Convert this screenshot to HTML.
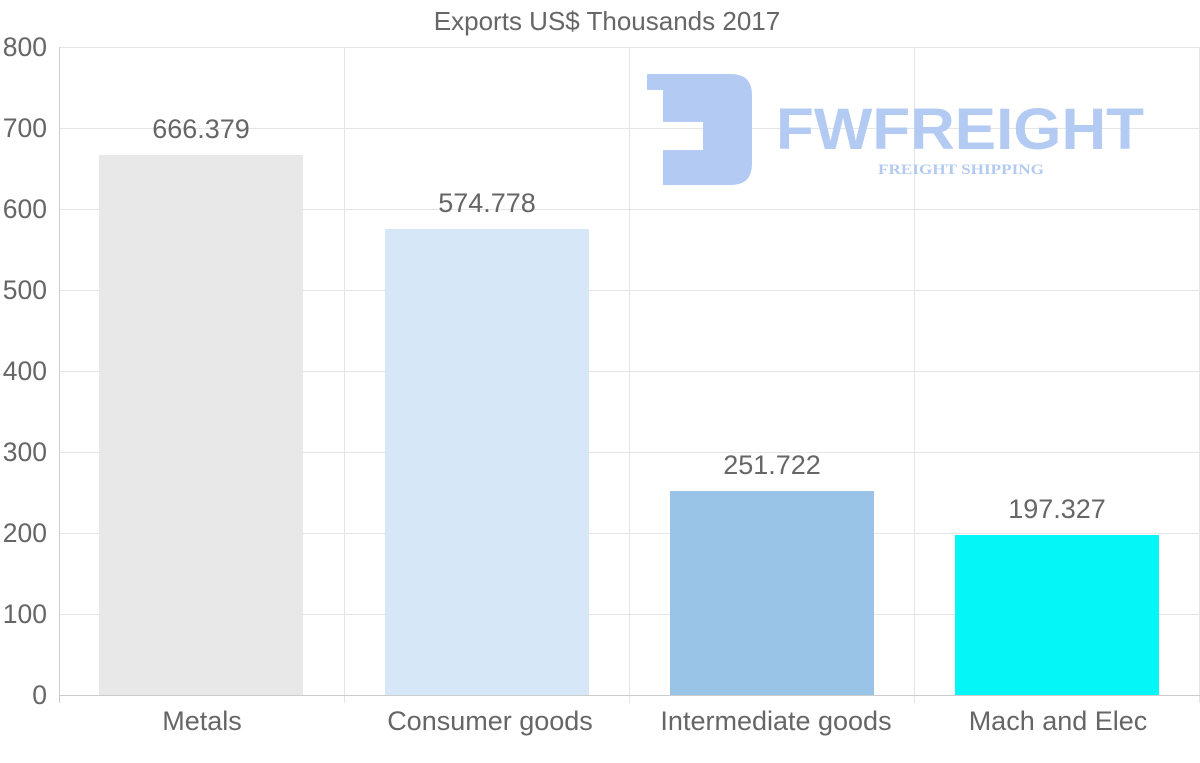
<!DOCTYPE html>
<html><head><meta charset="utf-8"><style>
html,body{margin:0;padding:0;background:#fff;}
svg{display:block;font-family:"Liberation Sans",Arial,sans-serif;}
</style></head><body>
<svg width="1200" height="763" viewBox="0 0 1200 763" xmlns="http://www.w3.org/2000/svg">
<rect width="1200" height="763" fill="#fff"/>
<text x="607" y="30" font-size="26" fill="#666" text-anchor="middle">Exports US$ Thousands 2017</text>
<g stroke="#e5e5e5" stroke-width="1">
<line x1="59" y1="47.5" x2="1200" y2="47.5"/>
<line x1="59" y1="128.5" x2="1200" y2="128.5"/>
<line x1="59" y1="209.5" x2="1200" y2="209.5"/>
<line x1="59" y1="290.5" x2="1200" y2="290.5"/>
<line x1="59" y1="371.5" x2="1200" y2="371.5"/>
<line x1="59" y1="452.5" x2="1200" y2="452.5"/>
<line x1="59" y1="533.5" x2="1200" y2="533.5"/>
<line x1="59" y1="614.5" x2="1200" y2="614.5"/>
<line x1="344.5" y1="47" x2="344.5" y2="703"/>
<line x1="629.5" y1="47" x2="629.5" y2="703"/>
<line x1="914.5" y1="47" x2="914.5" y2="703"/>
<line x1="1199.5" y1="47" x2="1199.5" y2="703"/>
</g>
<g stroke="#ccc" stroke-width="1">
<line x1="59.5" y1="47" x2="59.5" y2="703"/>
<line x1="59" y1="695.5" x2="1200" y2="695.5"/>
</g>
<g fill="#b3cbf2">
<path d="M647 74 H731 Q752 74 752 95 V164 Q752 185 731 185 H663 V150 H703 V122 H663 V90 H647 Z"/>
<text x="960" y="149" font-size="58" font-weight="bold" text-anchor="middle" textLength="368" lengthAdjust="spacingAndGlyphs">FWFREIGHT</text>
<text x="961" y="174" font-size="15" font-weight="bold" font-family="Liberation Serif,serif" text-anchor="middle" textLength="166" lengthAdjust="spacingAndGlyphs">FREIGHT SHIPPING</text>
</g>
<rect x="99" y="155" width="204" height="540" fill="#e8e8e8"/>
<rect x="385" y="229" width="204" height="466" fill="#d6e7f8"/>
<rect x="670" y="491" width="204" height="204" fill="#9ac4e7"/>
<rect x="955" y="535" width="204" height="160" fill="#04f6f6"/>
<g font-size="27" fill="#666" text-anchor="middle">
<text x="201" y="138">666.379</text>
<text x="487" y="212">574.778</text>
<text x="772" y="474">251.722</text>
<text x="1057" y="518">197.327</text>
<text x="202" y="730">Metals</text>
<text x="490" y="730">Consumer goods</text>
<text x="776" y="730">Intermediate goods</text>
<text x="1058" y="730">Mach and Elec</text>
</g>
<g font-size="26.5" fill="#666" text-anchor="end">
<text x="47" y="56">800</text>
<text x="47" y="137">700</text>
<text x="47" y="218">600</text>
<text x="47" y="299">500</text>
<text x="47" y="380">400</text>
<text x="47" y="461">300</text>
<text x="47" y="542">200</text>
<text x="47" y="623">100</text>
<text x="47" y="704">0</text>
</g>
</svg>
</body></html>
